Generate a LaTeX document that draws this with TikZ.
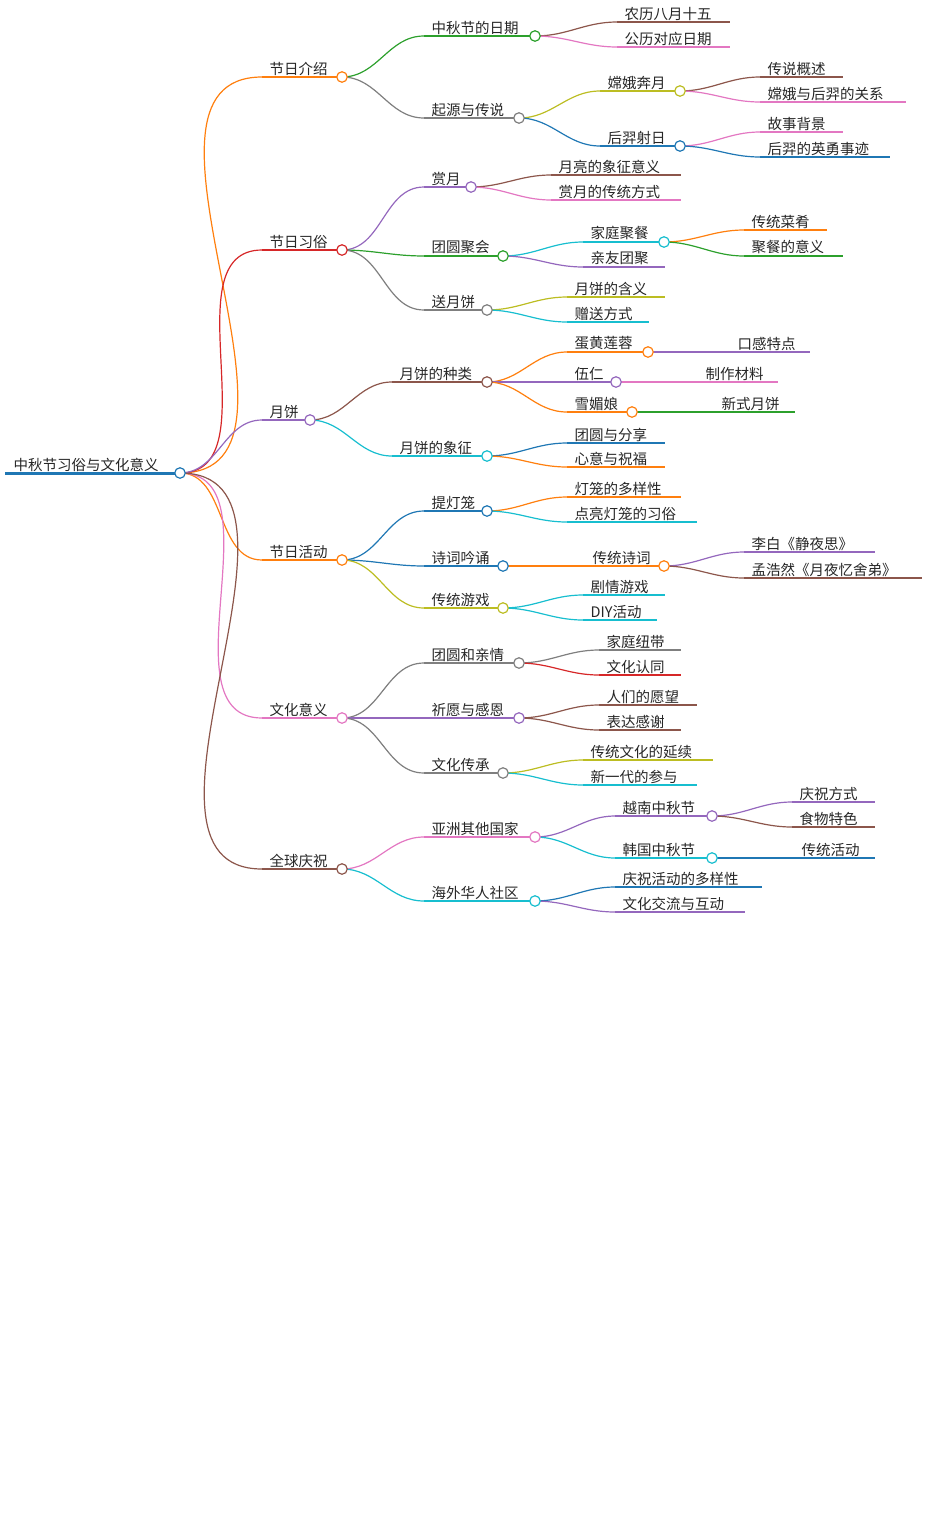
\documentclass[tikz,border=0pt]{standalone}
\usepackage{fontspec}
\setmainfont{Noto Sans CJK SC}
\usetikzlibrary{calc}
\definecolor{cB}{HTML}{1F77B4}\definecolor{cO}{HTML}{FF7F0E}\definecolor{cG}{HTML}{2CA02C}
\definecolor{cR}{HTML}{D62728}\definecolor{cP}{HTML}{9467BD}\definecolor{cN}{HTML}{8C564B}
\definecolor{cK}{HTML}{E377C2}\definecolor{cY}{HTML}{7F7F7F}\definecolor{cL}{HTML}{BCBD22}
\definecolor{cC}{HTML}{17BECF}
\tikzset{edge/.style={line width=1.2pt},lbl/.style={anchor=south west,inner sep=1.5pt,font=\fontsize{14.5}{16}\selectfont,text=black!85},
 dot/.style={circle,fill=white,line width=1.2pt,minimum size=10.5pt,inner sep=0pt}}
\newcommand\mm[7]{%
 \coordinate (#1s) at (#3,#5); \coordinate (#1e) at (#4,#5);
 \draw[#6,edge] (#2e) to[out=0,in=180] (#1s);
 \draw[#6,edge] (#1s) -- (#1e);
 \node[lbl] (#1t) at ($(#1s)+(6,0)$) {#7};}
\newcommand\dt[2]{\node[dot,draw=#2] (#1c) at (#1e) {};}
\begin{document}
\begin{tikzpicture}[x=1pt,y=-1pt]
\useasboundingbox (0,0) rectangle (928,1529);
\coordinate (rs) at (5,473); \coordinate (re) at (180,473);
\draw[cB,line width=3pt] (rs) -- (re);
\node[lbl] (rt) at ($(rs)+(7,0)$) {中秋节习俗与文化意义};
% level 1
\mm{a}{r}{262}{342}{77}{cO}{节日介绍}
\mm{b}{r}{262}{342}{250}{cR}{节日习俗}
\mm{c}{r}{262}{310}{420}{cP}{月饼}
\mm{d}{r}{262}{342}{560}{cO}{节日活动}
\mm{e}{r}{262}{342}{718}{cK}{文化意义}
\mm{f}{r}{262}{342}{869}{cN}{全球庆祝}
% a
\mm{aa}{a}{424}{535}{36}{cG}{中秋节的日期}
\mm{aaa}{aa}{617}{730}{22}{cN}{农历八月十五}
\mm{aab}{aa}{617}{730}{47}{cK}{公历对应日期}
\mm{ab}{a}{424}{519}{118}{cY}{起源与传说}
\mm{aba}{ab}{600}{680}{91}{cL}{嫦娥奔月}
\mm{abaa}{aba}{760}{843}{77}{cN}{传说概述}
\mm{abab}{aba}{760}{906}{102}{cK}{嫦娥与后羿的关系}
\mm{abb}{ab}{600}{680}{146}{cB}{后羿射日}
\mm{abba}{abb}{760}{843}{132}{cK}{故事背景}
\mm{abbb}{abb}{760}{890}{157}{cB}{后羿的英勇事迹}
% b
\mm{ba}{b}{424}{471}{187}{cP}{赏月}
\mm{baa}{ba}{551}{681}{175}{cN}{月亮的象征意义}
\mm{bab}{ba}{551}{681}{200}{cK}{赏月的传统方式}
\mm{bb}{b}{424}{503}{256}{cG}{团圆聚会}
\mm{bba}{bb}{583}{664}{242}{cC}{家庭聚餐}
\mm{bbaa}{bba}{744}{827}{230}{cO}{传统菜肴}
\mm{bbab}{bba}{744}{843}{256}{cG}{聚餐的意义}
\mm{bbb}{bb}{583}{665}{267}{cP}{亲友团聚}
\mm{bc}{b}{424}{487}{310}{cY}{送月饼}
\mm{bca}{bc}{567}{665}{297}{cL}{月饼的含义}
\mm{bcb}{bc}{567}{649}{322}{cC}{赠送方式}
% c
\mm{ca}{c}{392}{487}{382}{cN}{月饼的种类}
\mm{caa}{ca}{567}{648}{352}{cO}{蛋黄莲蓉}
\mm{caaa}{caa}{648}{810}{352}{cP}{\hspace*{82pt}口感特点}
\mm{cab}{ca}{567}{616}{382}{cP}{伍仁}
\mm{caba}{cab}{616}{778}{382}{cK}{\hspace*{82pt}制作材料}
\mm{cac}{ca}{567}{632}{412}{cO}{雪媚娘}
\mm{caca}{cac}{632}{795}{412}{cG}{\hspace*{82pt}新式月饼}
\mm{cb}{c}{392}{487}{456}{cC}{月饼的象征}
\mm{cba}{cb}{567}{665}{443}{cB}{团圆与分享}
\mm{cbb}{cb}{567}{665}{467}{cO}{心意与祝福}
% d
\mm{da}{d}{424}{487}{511}{cB}{提灯笼}
\mm{daa}{da}{567}{681}{497}{cO}{灯笼的多样性}
\mm{dab}{da}{567}{697}{522}{cC}{点亮灯笼的习俗}
\mm{db}{d}{424}{503}{566}{cB}{诗词吟诵}
\mm{dba}{db}{503}{664}{566}{cO}{\hspace*{82pt}传统诗词}
\mm{dbaa}{dba}{744}{875}{552}{cP}{李白《静夜思》}
\mm{dbab}{dba}{744}{922}{578}{cN}{孟浩然《月夜忆舍弟》}
\mm{dc}{d}{424}{503}{608}{cL}{传统游戏}
\mm{dca}{dc}{583}{665}{595}{cC}{剧情游戏}
\mm{dcb}{dc}{583}{657}{620}{cC}{DIY活动}
% e
\mm{ea}{e}{424}{519}{663}{cY}{团圆和亲情}
\mm{eaa}{ea}{599}{681}{650}{cY}{家庭纽带}
\mm{eab}{ea}{599}{681}{675}{cR}{文化认同}
\mm{eb}{e}{342}{519}{718}{cP}{\hspace*{82pt}祈愿与感恩}
\mm{eba}{eb}{599}{697}{705}{cN}{人们的愿望}
\mm{ebb}{eb}{599}{681}{730}{cN}{表达感谢}
\mm{ec}{e}{424}{503}{773}{cY}{文化传承}
\mm{eca}{ec}{583}{713}{760}{cL}{传统文化的延续}
\mm{ecb}{ec}{583}{697}{785}{cC}{新一代的参与}
% f
\mm{fa}{f}{424}{535}{837}{cK}{亚洲其他国家}
\mm{faa}{fa}{615}{712}{816}{cP}{越南中秋节}
\mm{faaa}{faa}{792}{875}{802}{cP}{庆祝方式}
\mm{faab}{faa}{792}{875}{827}{cN}{食物特色}
\mm{fab}{fa}{615}{712}{858}{cC}{韩国中秋节}
\mm{faba}{fab}{712}{875}{858}{cB}{\hspace*{82pt}传统活动}
\mm{fb}{f}{424}{535}{901}{cC}{海外华人社区}
\mm{fba}{fb}{615}{762}{887}{cB}{庆祝活动的多样性}
\mm{fbb}{fb}{615}{745}{912}{cP}{文化交流与互动}
% dots
\node[dot,draw=cB] (rc) at (re) {};
\dt{a}{cO}\dt{b}{cR}\dt{c}{cP}\dt{d}{cO}\dt{e}{cK}\dt{f}{cN}
\dt{aa}{cG}\dt{ab}{cY}\dt{aba}{cL}\dt{abb}{cB}
\dt{ba}{cP}\dt{bb}{cG}\dt{bba}{cC}\dt{bc}{cY}
\dt{ca}{cN}\dt{caa}{cO}\dt{cab}{cP}\dt{cac}{cO}\dt{cb}{cC}
\dt{da}{cB}\dt{db}{cB}\dt{dba}{cO}\dt{dc}{cL}
\dt{ea}{cY}\dt{eb}{cP}\dt{ec}{cY}
\dt{fa}{cK}\dt{faa}{cP}\dt{fab}{cC}\dt{fb}{cC}
\end{tikzpicture}
\end{document}
